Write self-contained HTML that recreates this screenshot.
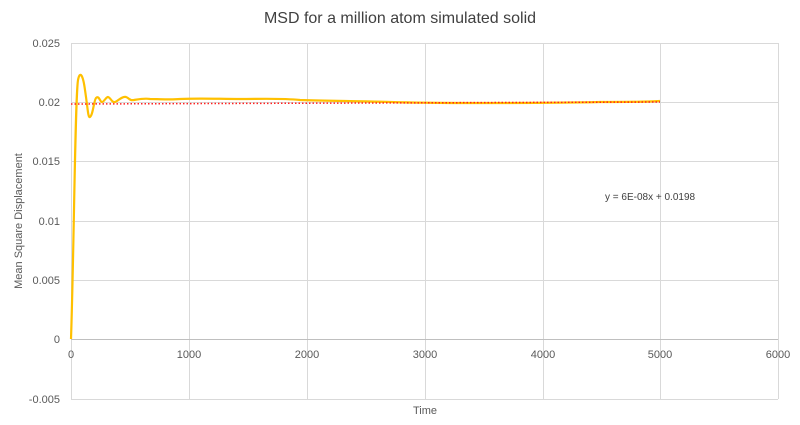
<!DOCTYPE html>
<html><head><meta charset="utf-8"><style>body{margin:0;background:#fff}svg{display:block;font-family:"Liberation Sans",sans-serif}</style></head><body>
<svg width="800" height="425" viewBox="0 0 800 425">
<rect x="0" y="0" width="800" height="425" fill="#fff"/>
<text x="400" y="23" font-size="16" fill="#404040" text-anchor="middle">MSD for a million atom simulated solid</text>
<g stroke="#d9d9d9" stroke-width="1">
<line x1="71" y1="43.5" x2="778" y2="43.5"/>
<line x1="71" y1="102.5" x2="778" y2="102.5"/>
<line x1="71" y1="161.5" x2="778" y2="161.5"/>
<line x1="71" y1="221.5" x2="778" y2="221.5"/>
<line x1="71" y1="280.5" x2="778" y2="280.5"/>
<line x1="71" y1="399.5" x2="778" y2="399.5"/>
<line x1="71.5" y1="43" x2="71.5" y2="399"/>
<line x1="189.5" y1="43" x2="189.5" y2="399"/>
<line x1="307.5" y1="43" x2="307.5" y2="399"/>
<line x1="425.5" y1="43" x2="425.5" y2="399"/>
<line x1="543.5" y1="43" x2="543.5" y2="399"/>
<line x1="660.5" y1="43" x2="660.5" y2="399"/>
<line x1="778.5" y1="43" x2="778.5" y2="399"/>
</g>
<line x1="71" y1="339.5" x2="778" y2="339.5" stroke="#bfbfbf"/>
<g font-size="11" fill="#595959" text-anchor="end">
<text x="60" y="47">0.025</text><text x="60" y="106">0.02</text><text x="60" y="165">0.015</text>
<text x="60" y="225">0.01</text><text x="60" y="284">0.005</text><text x="60" y="343">0</text><text x="60" y="403">-0.005</text>
</g>
<g font-size="11" fill="#595959" text-anchor="middle">
<text x="71" y="358">0</text><text x="189" y="358">1000</text><text x="307" y="358">2000</text><text x="425" y="358">3000</text>
<text x="543" y="358">4000</text><text x="660" y="358">5000</text><text x="778" y="358">6000</text>
</g>
<text x="425" y="414" font-size="11" fill="#595959" text-anchor="middle">Time</text>
<text transform="translate(22,221) rotate(-90)" font-size="11" fill="#595959" text-anchor="middle">Mean Square Displacement</text>
<text x="605" y="200" font-size="10" fill="#404040">y = 6E-08x + 0.0198</text>
<path d="M71,339 C74,250 75,100 78,80 C80,70 83,75 85,90 C88,110 88,118 90,117 C93,115 94,100 96,98 C99,95 100,102 102,102 C104,102 106,97 108,97 C111,98 112,103 115,102 C118,101 122,96 126,97 C129,98 130,101 134,100 C140,99 145,98 150,99 C160,99 170,100 180,99 C200,98 220,99 240,99 C260,99 280,98 300,100 C330,101 360,101 390,102 C420,103 450,103 480,103 C520,103 560,103 600,102 C630,102 645,102 660,101" fill="none" stroke="#ffc000" stroke-width="2.2"/>
<line x1="71" y1="104" x2="660" y2="102" stroke="#ff2020" stroke-width="1.5" stroke-dasharray="1.5,2"/>
</svg>
</body></html>
